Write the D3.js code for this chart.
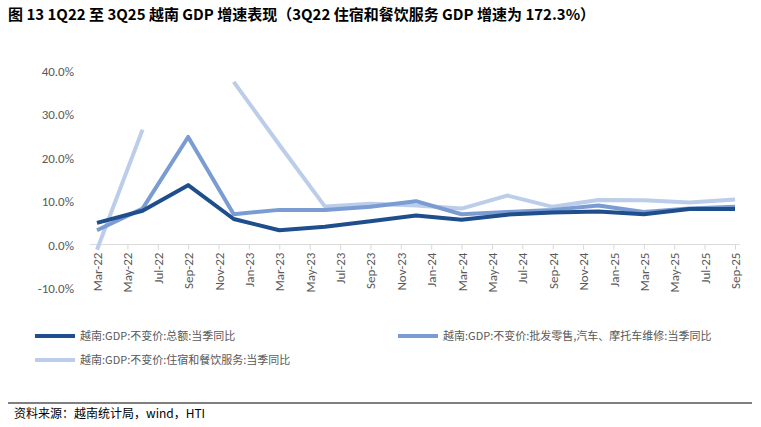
<!DOCTYPE html>
<html>
<head>
<meta charset="utf-8">
<script src="https://cdn.jsdelivr.net/npm/d3@7"></script>
<style>
  body { margin: 0; background: #fff; font-family: "Noto Sans CJK SC", "Noto Sans", sans-serif; }
</style>
</head>
<body>
<svg id="chart" width="761" height="427"></svg>
<script>
// quarter-end months, counted from Mar-22
const months = [0, 3, 6, 9, 12, 15, 18, 21, 24, 27, 30, 33, 36, 39, 42];
const total = [5.0, 7.8, 13.7, 5.9, 3.3, 4.1, 5.4, 6.7, 5.7, 6.9, 7.4, 7.6, 7.0, 8.2, 8.2];
const retail = [3.3, 8.3, 24.8, 7.0, 8.0, 8.0, 8.7, 10.0, 7.0, 7.5, 8.0, 9.0, 7.5, 8.3, 8.7];
const accom = [-1.2, 26.5, null, 37.5, 23.0, 8.8, 9.4, 9.0, 8.3, 11.3, 8.7, 10.3, 10.2, 9.7, 10.4];
const tickLabels = ["Mar", "May", "Jul", "Sep", "Nov", "Jan"];
const yTicks = [-10, 0, 10, 20, 30, 40];

const series = [
  { name: "越南:GDP:不变价:总额:当季同比", values: total, color: "#1f4e8c" },
  { name: "越南:GDP:不变价:批发零售,汽车、摩托车维修:当季同比", values: retail, color: "#7b9cd3" },
  { name: "越南:GDP:不变价:住宿和餐饮服务:当季同比", values: accom, color: "#bccde9" }
];

const svg = d3.select("#chart");

svg.append("text")
  .attr("x", 8).attr("y", 20)
  .attr("font-size", 15).attr("font-weight", "bold").attr("fill", "#000")
  .text("图 13  1Q22 至 3Q25 越南 GDP 增速表现（3Q22 住宿和餐饮服务 GDP 增速为 172.3%）");

const x = d3.scaleLinear().domain([0, 42]).range([97, 735]);
const y = d3.scaleLinear().domain([-10, 40]).range([288, 71]);

// y labels
svg.append("g")
  .selectAll("text")
  .data(yTicks)
  .join("text")
  .attr("x", 74).attr("y", d => y(d) + 5)
  .attr("text-anchor", "end")
  .attr("font-size", 13).attr("fill", "#595959")
  .attr("font-family", "Calibri, Carlito, 'Liberation Sans', sans-serif")
  .text(d => d.toFixed(1) + "%");

// x axis at zero
const monthTicks = d3.range(0, 43, 2);
const xAxis = d3.axisBottom(x)
  .tickValues(monthTicks)
  .tickSize(5)
  .tickSizeOuter(0)
  .tickFormat(m => {
    const idx = (m / 2) % 6;
    const yr = 22 + Math.floor((m + 2) / 12);
    return tickLabels[idx] + "-" + yr;
  });

const gx = svg.append("g")
  .attr("transform", "translate(0," + y(0) + ")")
  .call(xAxis);
gx.select(".domain").attr("stroke", "#d9d9d9").attr("d", "M90,0H740");
gx.selectAll(".tick line").attr("stroke", "#d9d9d9");
gx.selectAll(".tick text")
  .attr("transform", "rotate(-90)")
  .attr("text-anchor", "end")
  .attr("x", -8).attr("y", 0).attr("dy", "0.35em")
  .attr("font-size", 13).attr("fill", "#595959")
  .attr("font-family", "Calibri, Carlito, 'Liberation Sans', sans-serif");

// lines
const line = d3.line()
  .defined(d => d[1] !== null)
  .x(d => x(d[0]))
  .y(d => y(d[1]));

series.slice().reverse().forEach(s => {
  svg.append("path")
    .datum(months.map((m, i) => [m, s.values[i]]))
    .attr("fill", "none")
    .attr("stroke", s.color)
    .attr("stroke-width", 4)
    .attr("stroke-linejoin", "round")
    .attr("d", line);
});

// legend
const legendPos = [[35, 336], [398, 336], [35, 360]];
series.forEach((s, i) => {
  const [lx, ly] = legendPos[i];
  svg.append("line")
    .attr("x1", lx).attr("x2", lx + 40).attr("y1", ly).attr("y2", ly)
    .attr("stroke", s.color).attr("stroke-width", 4);
  svg.append("text")
    .attr("x", lx + 45).attr("y", ly + 4)
    .attr("font-size", 11).attr("fill", "#595959")
    .text(s.name);
});

// source
svg.append("line")
  .attr("x1", 8).attr("x2", 752).attr("y1", 403).attr("y2", 403)
  .attr("stroke", "#000").attr("stroke-width", 1);
svg.append("text")
  .attr("x", 14).attr("y", 418)
  .attr("font-size", 12).attr("fill", "#000")
  .text("资料来源：越南统计局，wind，HTI");
</script>
</body>
</html>
